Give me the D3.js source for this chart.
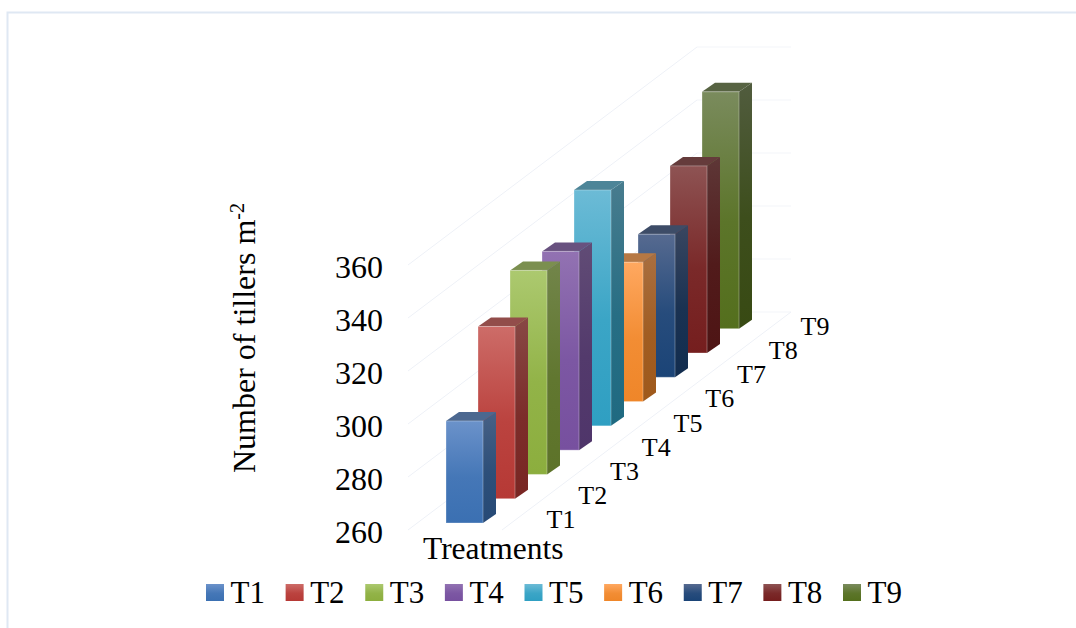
<!DOCTYPE html>
<html>
<head>
<meta charset="utf-8">
<script src="https://cdn.jsdelivr.net/npm/d3@7"></script>
<style>
  html, body { margin: 0; padding: 0; background: #fff; }
  svg { display: block; }
  text { font-family: "Liberation Serif", serif; fill: #000; }
</style>
</head>
<body>
<div id="chart"></div>
<script>
var categories = ["T1", "T2", "T3", "T4", "T5", "T6", "T7", "T8", "T9"];
var tillers = [298.5, 325, 337, 335, 349, 312.6, 314, 330.6, 349.4];
var yTicks = [260, 280, 300, 320, 340, 360];
var frontTop = ["#6b92ca", "#cd6c68", "#acc96f", "#9272b2", "#6cbbd6", "#ffa860", "#566a90", "#8e5353", "#7a8b5d"];
var frontBottom = ["#3b70b2", "#b63935", "#8cae3e", "#77509f", "#2f9fc2", "#ef8629", "#1b4477", "#751e1e", "#546f1d"];

var width = 1076, height = 628;

var svg = d3.select("#chart").append("svg")
    .attr("width", width)
    .attr("height", height);

// outer frame, open on the right and bottom
svg.append("path")
    .attr("d", "M7.5," + height + "V12.5H" + width)
    .attr("fill", "none")
    .attr("stroke", "#dfe8f3")
    .attr("stroke-width", 2);

// fake 3d: each category moves along the floor diagonal
var barW = 37, depthX = 13, depthY = 9;
var barX = d3.scalePoint().domain(categories).range([446, 702]);
var barBase = d3.scalePoint().domain(categories).range([523, 328.7]);
var barH = d3.scaleLinear().domain([260, 360]).range([0, 265]);

// walls
var wallX0 = 408, wallX1 = 697, wallX2 = 791, wallRise = 218, floorX = 502;
var wallY = d3.scaleLinear().domain([260, 360]).range([530, 265]);

var grid = svg.append("g").attr("fill", "none");
yTicks.forEach(function (t) {
    grid.append("path")
        .attr("d", "M" + wallX0 + "," + wallY(t) + "L" + wallX1 + "," + (wallY(t) - wallRise))
        .attr("stroke", "#eef1f7");
    grid.append("path")
        .attr("d", "M" + wallX1 + "," + (wallY(t) - wallRise) + "H" + wallX2)
        .attr("stroke", "#f3f5f9");
});
grid.append("path")
    .attr("d", "M" + floorX + "," + wallY(260) + "L" + wallX2 + "," + (wallY(260) - wallRise))
    .attr("stroke", "#eef1f7");

// gradients
var defs = svg.append("defs");
function addGrad(id, top, bottom) {
    var g = defs.append("linearGradient")
        .attr("id", id)
        .attr("x1", 0).attr("y1", 0).attr("x2", 0).attr("y2", 1);
    g.append("stop").attr("offset", "0%").attr("stop-color", top);
    g.append("stop").attr("offset", "55%").attr("stop-color", d3.interpolateRgb(top, bottom)(0.8));
    g.append("stop").attr("offset", "100%").attr("stop-color", bottom);
}
categories.forEach(function (c, i) {
    addGrad("front" + i, frontTop[i], frontBottom[i]);
    addGrad("side" + i, d3.rgb(frontTop[i]).darker(1.15).formatHex(), d3.rgb(frontBottom[i]).darker(1.15).formatHex());
});

// bars, back to front
var data = categories.map(function (c, i) { return {name: c, value: tillers[i], i: i}; }).reverse();

var bars = svg.selectAll("g.bar").data(data).enter().append("g").attr("class", "bar");

bars.append("path")
    .attr("fill", function (d) { return "url(#side" + d.i + ")"; })
    .attr("d", function (d) {
        var x = barX(d.name) + barW, b = barBase(d.name), t = b - barH(d.value);
        return "M" + x + "," + t + "l" + depthX + "," + (-depthY) + "V" + (b - depthY) + "l" + (-depthX) + "," + depthY + "Z";
    });

bars.append("path")
    .attr("fill", function (d) { return d3.rgb(frontTop[d.i]).darker(0.95).formatHex(); })
    .attr("d", function (d) {
        var x = barX(d.name), t = barBase(d.name) - barH(d.value);
        return "M" + x + "," + t + "l" + depthX + "," + (-depthY) + "h" + barW + "l" + (-depthX) + "," + depthY + "Z";
    });

bars.append("rect")
    .attr("x", function (d) { return barX(d.name); })
    .attr("y", function (d) { return barBase(d.name) - barH(d.value); })
    .attr("width", barW)
    .attr("height", function (d) { return barH(d.value); })
    .attr("fill", function (d) { return "url(#front" + d.i + ")"; })
    .attr("stroke", "#fff")
    .attr("stroke-opacity", 0.3);

// value axis
var yAxis = d3.axisLeft(wallY).tickValues(yTicks).tickSize(0).tickPadding(0);
var yG = svg.append("g")
    .attr("transform", "translate(383,2.5)")
    .call(yAxis);
yG.select(".domain").remove();
yG.selectAll("text")
    .style("font-family", "'Liberation Serif', serif")
    .style("font-size", "32px")
    .attr("fill", "#000");

// category labels along the floor
var catX = d3.scalePoint().domain(categories).range([561, 815]);
var catY = d3.scalePoint().domain(categories).range([528, 335]);
svg.selectAll("text.cat").data(categories).enter().append("text")
    .attr("class", "cat")
    .attr("x", function (d) { return catX(d); })
    .attr("y", function (d) { return catY(d); })
    .attr("text-anchor", "middle")
    .style("font-size", "26px")
    .text(function (d) { return d; });

// axis titles
svg.append("text")
    .attr("x", 423)
    .attr("y", 559)
    .style("font-size", "31.5px")
    .text("Treatments");

var yTitle = svg.append("text")
    .attr("transform", "translate(255,473) rotate(-90)")
    .style("font-size", "32px")
    .text("Number of tillers m");
yTitle.append("tspan")
    .attr("dy", -11)
    .style("font-size", "20px")
    .text("-2");

// legend
var legX = d3.scalePoint().domain(categories).range([206, 843]);
var leg = svg.selectAll("g.leg").data(categories).enter().append("g")
    .attr("class", "leg")
    .attr("transform", function (d) { return "translate(" + legX(d) + ",584)"; });
leg.append("rect")
    .attr("width", 18)
    .attr("height", 17)
    .attr("fill", function (d, i) { return "url(#front" + i + ")"; });
leg.append("text")
    .attr("x", 24.5)
    .attr("y", 19)
    .style("font-size", "31px")
    .text(function (d) { return d; });
</script>
</body>
</html>
